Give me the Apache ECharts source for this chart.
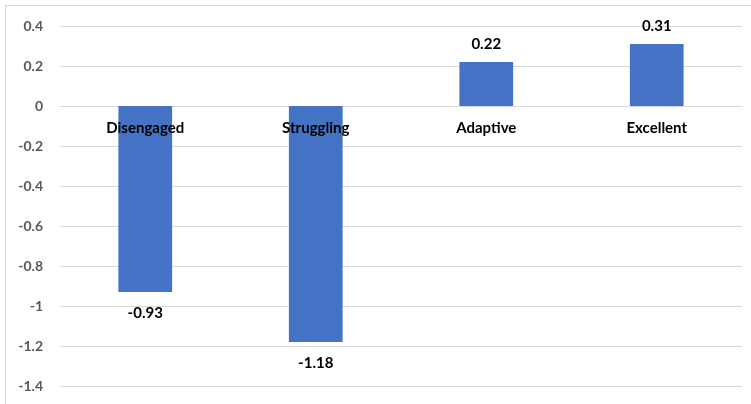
<!DOCTYPE html>
<html>
<head>
<meta charset="utf-8">
<script src="https://cdn.jsdelivr.net/npm/echarts@6/dist/echarts.min.js"></script>
<style>
  html, body { margin: 0; padding: 0; background: #fff; }
  #frame { position: absolute; left: 5px; top: 5px; width: 760px; height: 420px; border: 1px solid #d9d9d9; box-sizing: border-box; }
  #chart { position: absolute; left: 0; top: 0; width: 751px; height: 404px; }
</style>
</head>
<body>
<div id="frame"></div>
<div id="chart"></div>
<script>
// Categories and mean scores per group
const categories = ['Disengaged', 'Struggling', 'Adaptive', 'Excellent'];
const scores = [-0.93, -1.18, 0.22, 0.31];
const yMin = -1.4;
const yMax = 0.4;
const yStep = 0.2;

const font = 'Lato, "Open Sans", sans-serif';

const chart = echarts.init(document.getElementById('chart'), null, { renderer: 'canvas' });
chart.setOption({
  backgroundColor: 'transparent',
  animation: false,
  grid: { left: 60, right: 9, top: 26, bottom: 18, containLabel: false, outerBoundsMode: 'none' },
  xAxis: {
    type: 'category',
    data: categories,
    axisLine: { show: true, onZero: true, lineStyle: { color: '#d9d9d9', width: 1 } },
    axisTick: { show: false },
    axisLabel: { show: false },
    splitLine: { show: false }
  },
  yAxis: {
    type: 'value',
    min: yMin,
    max: yMax,
    interval: yStep,
    axisLine: { show: false },
    axisTick: { show: false },
    axisLabel: {
      margin: 17,
      color: '#595959',
      fontFamily: font,
      fontWeight: 'bold',
      fontSize: 14,
      formatter: v => String(Math.round(v * 10) / 10)
    },
    splitLine: { show: true, lineStyle: { color: '#d9d9d9', width: 1 } }
  },
  series: [{
    type: 'bar',
    barWidth: '31.5%',
    itemStyle: { color: '#4472c4' },
    data: scores.map(v => ({
      value: v,
      label: { position: v < 0 ? 'bottom' : 'top', distance: v < 0 ? 14 : 10 }
    })),
    label: {
      show: true,
      color: '#000',
      fontFamily: font,
      fontWeight: 'bold',
      fontSize: 15,
      formatter: p => p.value.toFixed(2)
    }
  }, {
    // Category names sit just under the zero line, over the bars
    type: 'scatter',
    symbolSize: 0,
    silent: true,
    z: 5,
    itemStyle: { opacity: 1 },
    data: categories.map(c => [c, 0]),
    label: {
      show: true,
      opacity: 1,
      position: 'bottom',
      distance: 15,
      color: '#000',
      fontFamily: font,
      fontWeight: 'bold',
      fontSize: 15,
      formatter: p => p.value[0]
    }
  }]
});
</script>
</body>
</html>
